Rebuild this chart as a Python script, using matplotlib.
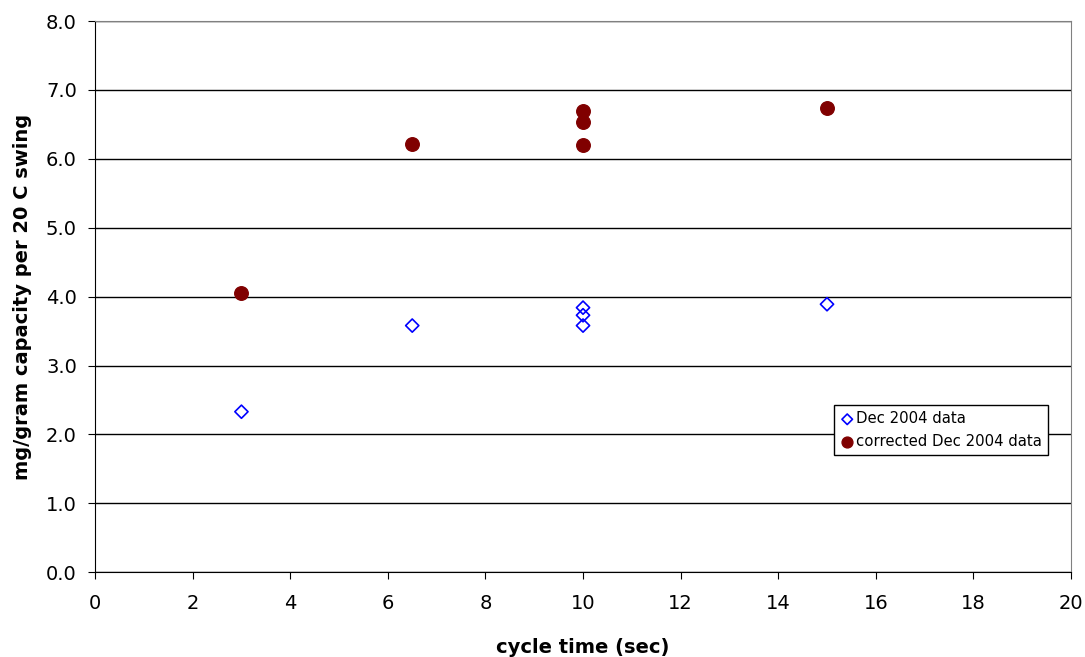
import matplotlib.pyplot as plt

plt.rcParams['font.family'] = ['DejaVu Sans']

# Dec 2004 data
dec_x = [3, 6.5, 10, 10, 10, 15]
dec_y = [2.33, 3.58, 3.84, 3.73, 3.58, 3.89]

# corrected Dec 2004 data
cor_x = [3, 6.5, 10, 10, 10, 15]
cor_y = [4.05, 6.21, 6.70, 6.53, 6.20, 6.74]

fig = plt.figure(figsize=(10.85, 6.57), dpi=100)
ax = fig.add_axes([0.0876, 0.129, 0.8995, 0.839])

ax.scatter(dec_x, dec_y, marker='D', s=45, facecolors='none', edgecolors='#0000ff',
           linewidths=1.2, label='Dec 2004 data', zorder=3)
ax.scatter(cor_x, cor_y, marker='o', s=95, color='#800000',
           label='corrected Dec 2004 data', zorder=3)

ax.set_xlim(0, 20)
ax.set_ylim(0, 8)
ax.set_xticks(range(0, 21, 2))
ax.set_yticks([i * 1.0 for i in range(9)])
ax.set_yticklabels([f'{i:.1f}' for i in range(9)])
ax.yaxis.grid(True, color='black', linewidth=1)
ax.set_axisbelow(True)
ax.spines['top'].set_color('#808080')
ax.spines['right'].set_color('#808080')
ax.tick_params(labelsize=14, direction='out', length=5)
ax.tick_params(axis='x', pad=11)
ax.tick_params(axis='y', pad=8)

ax.set_xlabel('cycle time (sec)', fontsize=14, fontweight='bold')
ax.set_ylabel('mg/gram capacity per 20 C swing', fontsize=14, fontweight='bold')
ax.xaxis.set_label_coords(0.5, -0.12)
ax.yaxis.set_label_coords(-0.0645, 0.5)

leg = ax.legend(loc='upper left', bbox_to_anchor=(0.757, 0.303), fontsize=10.7,
                frameon=True, fancybox=False, edgecolor='black', framealpha=1,
                handletextpad=0.1, borderpad=0.4, labelspacing=0.55, handlelength=1,
                borderaxespad=0, markerscale=0.8)
leg.get_frame().set_linewidth(1)

fig.savefig('out.png', dpi=100)
